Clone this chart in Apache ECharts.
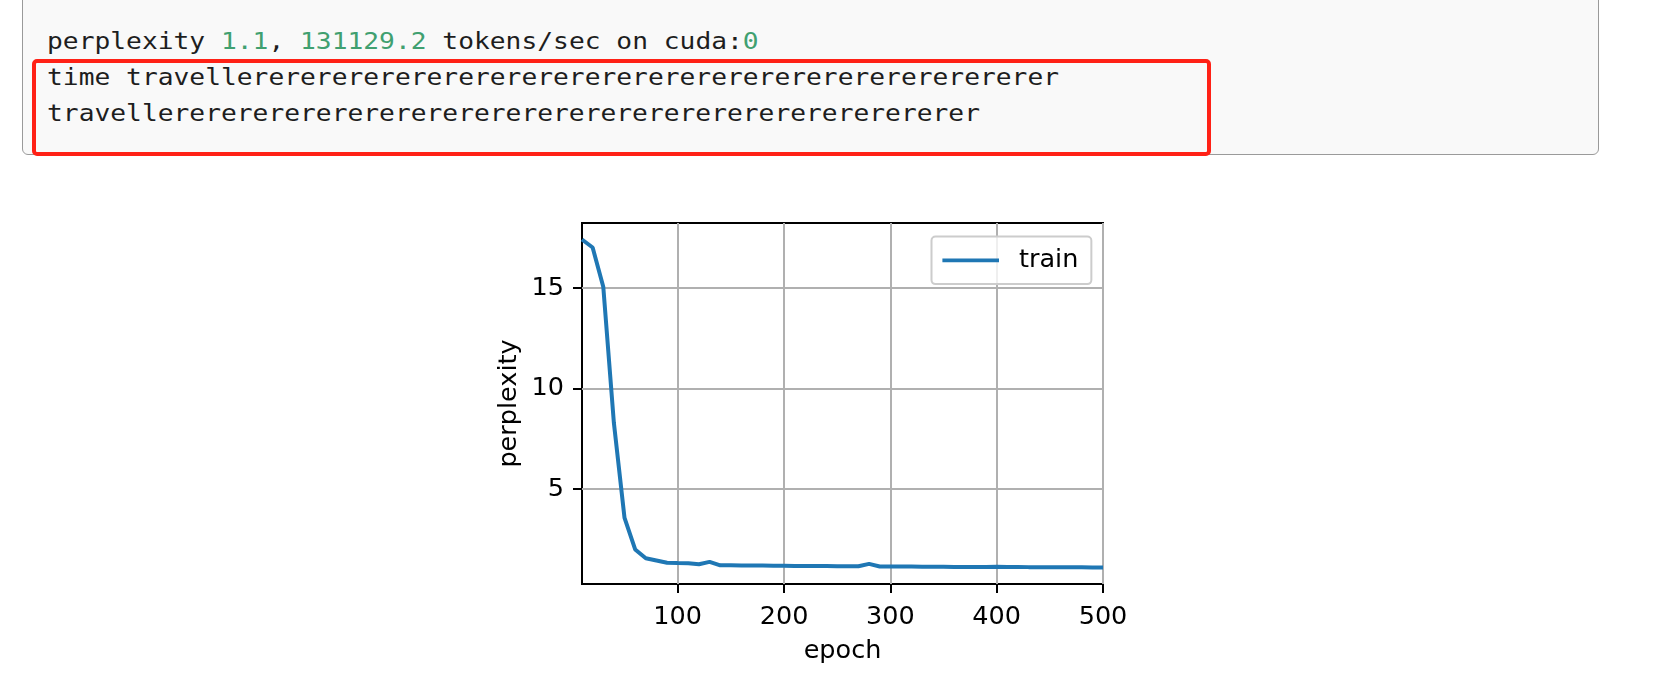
<!DOCTYPE html>
<html>
<head>
<meta charset="utf-8">
<script src="https://cdn.jsdelivr.net/npm/echarts@6/dist/echarts.min.js"></script>
<style>
html,body{margin:0;padding:0;width:1679px;height:683px;background:#ffffff;overflow:hidden;}
#chart{position:absolute;left:0;top:0;width:1679px;height:683px;z-index:1;}
#out{position:absolute;left:22px;top:-12px;width:1577px;height:167px;background:#f9f9f9;border:1.5px solid #9a9a9a;border-radius:6px;box-sizing:border-box;z-index:2;}
#txt{position:absolute;left:47px;top:22.5px;margin:0;font-family:'DejaVu Sans Mono';font-size:23px;line-height:36px;letter-spacing:0;color:#1e1e1e;white-space:pre;z-index:3;transform:scaleX(1.142);transform-origin:0 0;}
.num{color:#40a070;}
#red{position:absolute;left:31.5px;top:58.5px;width:1179.5px;height:97.5px;border:4.5px solid #ff2116;border-radius:5px;box-sizing:border-box;z-index:4;}
</style>
</head>
<body>
<div id="chart"></div>
<div id="out"></div>
<pre id="txt"><span>perplexity </span><span class="num">1.1</span><span>, </span><span class="num">131129.2</span><span> tokens/sec on cuda:</span><span class="num">0</span>
<span id="pred1"></span>
<span id="pred2"></span></pre>
<div id="red"></div>
<script>
// ---- data ----
const epochs = [10,20,30,40,50,60,70,80,90,100,110,120,130,140,150,160,170,180,190,200,210,220,230,240,250,260,270,280,290,300,310,320,330,340,350,360,370,380,390,400,410,420,430,440,450,460,470,480,490,500];
const trainPerplexity = [17.42,17.02,15.07,8.28,3.56,1.99,1.55,1.44,1.33,1.31,1.30,1.25,1.37,1.20,1.20,1.19,1.19,1.19,1.18,1.18,1.17,1.17,1.16,1.16,1.15,1.15,1.15,1.27,1.14,1.14,1.14,1.14,1.13,1.13,1.13,1.12,1.12,1.12,1.12,1.13,1.12,1.12,1.11,1.11,1.10,1.10,1.10,1.10,1.09,1.09];
const xTickValues = [100,200,300,400,500];
const yTickValues = [5,10,15];
const seriesName = 'train';
const xAxisLabel = 'epoch';
const yAxisLabel = 'perplexity';
const predPrefix1 = 'time traveller';
const predPrefix2 = 'traveller';
const predSuffix = 'er'.repeat(25);

document.getElementById('pred1').textContent = predPrefix1 + predSuffix;
document.getElementById('pred2').textContent = predPrefix2 + predSuffix;

const font = 'DejaVu Sans';
const chart = echarts.init(document.getElementById('chart'), null, {renderer:'canvas'});
chart.setOption({
  animation:false,
  backgroundColor:'transparent',
  grid:{left:582, top:223, width:521, height:361, show:true, borderColor:'#000000', borderWidth:2, backgroundColor:'transparent'},
  legend:{
    left:931.5, top:236.5, orient:'horizontal',
    padding:[10.8,13,10.8,9], itemWidth:56.6, itemHeight:14.6,
    backgroundColor:'rgba(255,255,255,0.8)', borderColor:'#cccccc', borderWidth:2, borderRadius:4,
    textStyle:{fontFamily:font, fontSize:25.5, color:'#000000', padding:[0,0,0,15]},
    lineStyle:{width:3.8},
    itemStyle:{color:'rgba(0,0,0,0)', opacity:0, borderWidth:0},
    data:[seriesName]
  },
  xAxis:{
    type:'value', min:10, max:500,
    name:xAxisLabel, nameLocation:'middle', nameGap:54,
    nameTextStyle:{fontFamily:font, fontSize:25.5, color:'#000000'},
    axisLine:{show:false},
    axisTick:{show:true, inside:false, length:9, lineStyle:{color:'#000000', width:2}, customValues:xTickValues},
    axisLabel:{customValues:xTickValues, margin:20, fontFamily:font, fontSize:25.5, color:'#000000'},
    splitLine:{show:true, lineStyle:{color:'#b0b0b0', width:2}}
  },
  yAxis:{
    type:'value', min:0.27, max:18.24,
    name:yAxisLabel, nameLocation:'middle', nameGap:60, nameRotate:90,
    nameTextStyle:{fontFamily:font, fontSize:25.5, color:'#000000'},
    axisLine:{show:false},
    axisTick:{show:true, inside:false, length:9, lineStyle:{color:'#000000', width:2}, customValues:yTickValues},
    axisLabel:{customValues:yTickValues, margin:18, fontFamily:font, fontSize:25.5, color:'#000000'},
    splitLine:{show:true, lineStyle:{color:'#b0b0b0', width:2}}
  },
  series:[{
    name:seriesName, type:'line', symbol:'none', smooth:false,
    data:epochs.map((e,i)=>[e, trainPerplexity[i]]),
    lineStyle:{color:'#1f77b4', width:4},
    itemStyle:{color:'#1f77b4'}
  }]
});
</script>
</body>
</html>
